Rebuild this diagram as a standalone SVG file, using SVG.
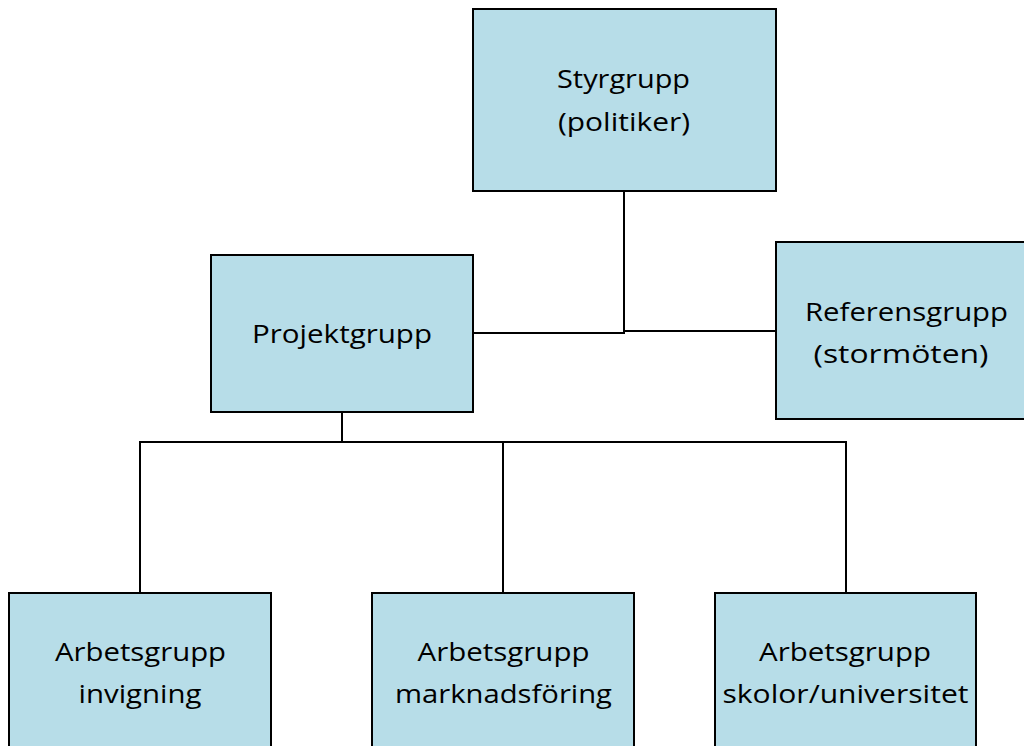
<svg xmlns="http://www.w3.org/2000/svg" width="1024" height="746" viewBox="0 0 1024 746">
<style>
.box{fill:#B7DDE8;stroke:#000;stroke-width:2}
.lbl{font-family:"Open Sans","Noto Sans",sans-serif;font-size:25px;fill:#000;text-anchor:middle}
.con{fill:none;stroke:#000;stroke-width:2}
</style>
<rect width="1024" height="746" fill="#fff"/>
<g id="connectors">
<path class="con" d="M624,191 V333 H473"/>
<path class="con" d="M624,331 H776"/>
<path class="con" d="M342,412 V442"/>
<path class="con" d="M140,593 V442 H846 V593"/>
<path class="con" d="M503,442 V593"/>
</g>
<g id="styrgrupp">
<rect class="box" x="473" y="9" width="303" height="182"/>
<text class="lbl" x="623.5" y="88" textLength="133" lengthAdjust="spacingAndGlyphs">Styrgrupp</text>
<text class="lbl" x="624" y="131" textLength="132" lengthAdjust="spacingAndGlyphs">(politiker)</text>
</g>
<g id="projektgrupp">
<rect class="box" x="211" y="255" width="262" height="157"/>
<text class="lbl" x="342" y="343" textLength="180" lengthAdjust="spacingAndGlyphs">Projektgrupp</text>
</g>
<g id="referensgrupp">
<rect class="box" x="776" y="242" width="260" height="177"/>
<text class="lbl" x="906.5" y="321" textLength="203" lengthAdjust="spacingAndGlyphs">Referensgrupp</text>
<text class="lbl" x="901" y="363" textLength="175" lengthAdjust="spacingAndGlyphs">(stormöten)</text>
</g>
<g id="arbetsgrupp-invigning">
<rect class="box" x="9" y="593" width="262" height="170"/>
<text class="lbl" x="140.5" y="661" textLength="171" lengthAdjust="spacingAndGlyphs">Arbetsgrupp</text>
<text class="lbl" x="140" y="703" textLength="123" lengthAdjust="spacingAndGlyphs">invigning</text>
</g>
<g id="arbetsgrupp-marknadsforing">
<rect class="box" x="372" y="593" width="262" height="170"/>
<text class="lbl" x="503.5" y="661" textLength="172" lengthAdjust="spacingAndGlyphs">Arbetsgrupp</text>
<text class="lbl" x="503.5" y="703" textLength="217" lengthAdjust="spacingAndGlyphs">marknadsföring</text>
</g>
<g id="arbetsgrupp-skolor">
<rect class="box" x="715" y="593" width="261" height="170"/>
<text class="lbl" x="845" y="661" textLength="172" lengthAdjust="spacingAndGlyphs">Arbetsgrupp</text>
<text class="lbl" x="845.5" y="703" textLength="246" lengthAdjust="spacingAndGlyphs">skolor/universitet</text>
</g>
</svg>
